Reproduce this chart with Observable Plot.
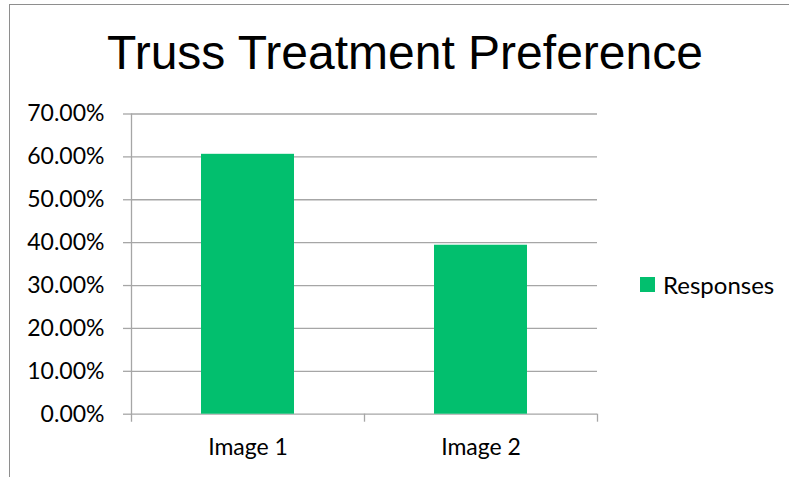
<!DOCTYPE html>
<html>
<head>
<meta charset="utf-8">
<script src="https://cdn.jsdelivr.net/npm/d3@7"></script>
<script src="https://cdn.jsdelivr.net/npm/@observablehq/plot@0.6"></script>
<style>
  html, body { margin: 0; padding: 0; background: #fff; }
  #wrap { position: relative; width: 789px; height: 477px; overflow: hidden; background: #fff; }
  #border { position: absolute; left: 9px; top: 4px; width: 790px; height: 480px;
            border-top: 1px solid #8e8e8e; border-left: 1px solid #8e8e8e; box-sizing: border-box; }
  #title { position: absolute; left: 0; top: 29px; width: 810px; text-align: center;
           font-family: "Liberation Sans", Arimo, Arial, sans-serif; font-size: 48px; line-height: 48px; color: #000; }
  #legend { position: absolute; left: 640px; top: 270px; display: flex; align-items: center;
            font-family: Lato, "Open Sans", sans-serif; font-size: 24px; color: #000; }
  #legend .sw { width: 15px; height: 15px; margin-right: 8px; }
  #chart { position: absolute; left: 0; top: 0; }
</style>
</head>
<body>
<div id="wrap">
  <div id="border"></div>
  <div id="chart"></div>
  <div id="title"></div>
  <div id="legend"></div>
</div>
<script>
// ---- data ----
const titleText = "Truss Treatment Preference";
const categories = ["Image 1", "Image 2"];
const responses = [0.606, 0.394];
const seriesName = "Responses";
const yTicks = [0, 0.1, 0.2, 0.3, 0.4, 0.5, 0.6, 0.7];
const barColor = "#02bf6e";
const gridColor = "#a6a6a6";

const rows = categories.map((c, i) => ({category: c, value: responses[i]}));

const W = 789, H = 477;
const mL = 131, mR = 192, mT = 113.5, mB = 63.3;
const step = (W - mL - mR) / categories.length;
const tickFont = "Lato, 'Open Sans', sans-serif";

const chart = Plot.plot({
  width: W,
  height: H,
  marginLeft: mL,
  marginRight: mR,
  marginTop: mT,
  marginBottom: mB,
  style: {background: "transparent", fontFamily: tickFont, fontSize: "23px", color: "#000"},
  x: {domain: categories, paddingInner: 0.6, paddingOuter: 0.3},
  y: {domain: [0, 0.7]},
  marks: [
    Plot.gridY(yTicks, {stroke: gridColor, strokeOpacity: 1, strokeWidth: 1.3}),
    Plot.axisY(yTicks, {
      tickSize: 8, tickPadding: 19, stroke: gridColor, strokeWidth: 1.3, fill: "#000",
      fontSize: 23, tickFormat: d => (d * 100).toFixed(2) + "%", label: null
    }),
    // vertical value-axis line (left boundary of first category), extended by the tick
    Plot.ruleX([categories[0]], {x: d => d, dx: -step / 2, insetBottom: -8, stroke: gridColor, strokeWidth: 1.3}),
    // category boundary ticks below the baseline
    Plot.ruleX(categories.slice(1), {x: d => d, dx: -step / 2, y1: 0, y2: 0, insetBottom: -8, stroke: gridColor, strokeWidth: 1.3}),
    Plot.ruleX([categories[categories.length - 1]], {x: d => d, dx: step / 2, y1: 0, y2: 0, insetBottom: -8, stroke: gridColor, strokeWidth: 1.3}),
    Plot.barY(rows, {x: "category", y: "value", fill: barColor}),
    Plot.axisX({tickSize: 0, tickPadding: 24, fontSize: 23, fill: "#000", label: null})
  ]
});
document.getElementById("chart").appendChild(chart);

document.getElementById("title").textContent = titleText;
const leg = document.getElementById("legend");
const sw = document.createElement("div");
sw.className = "sw";
sw.style.background = barColor;
const lab = document.createElement("span");
lab.textContent = seriesName;
leg.appendChild(sw);
leg.appendChild(lab);
</script>
</body>
</html>
